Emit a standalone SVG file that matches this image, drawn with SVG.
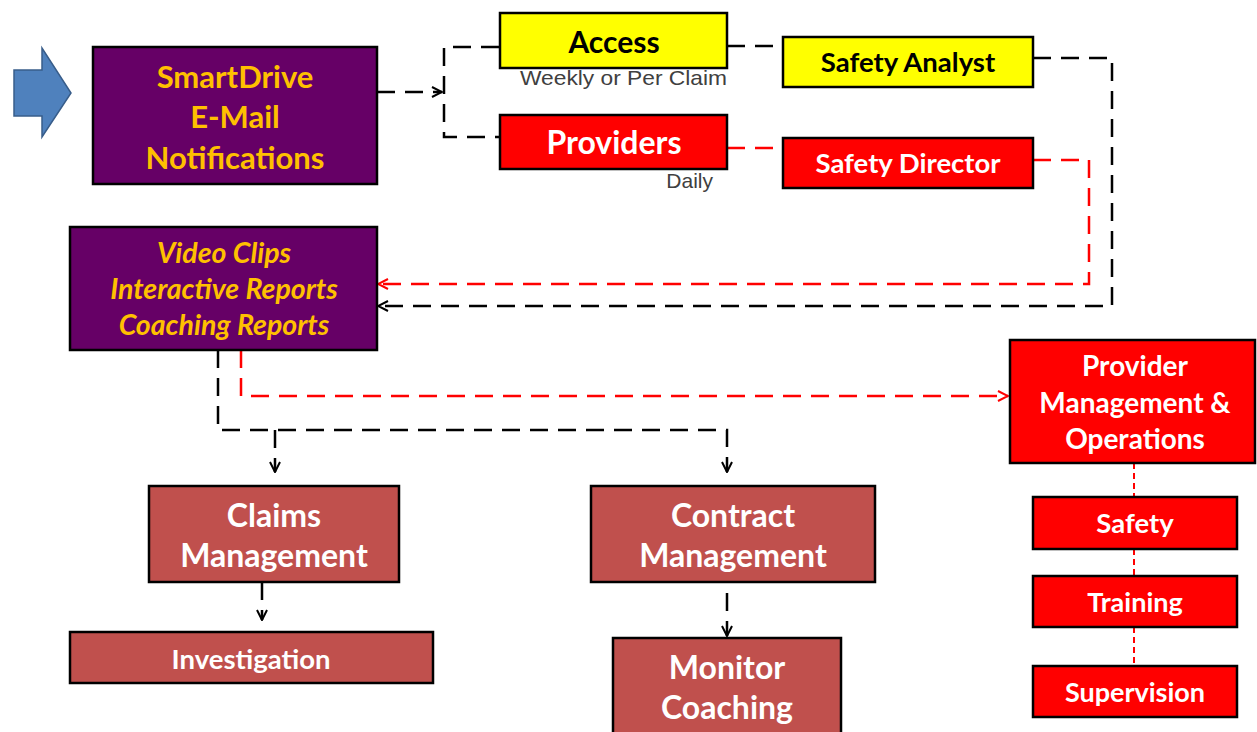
<svg xmlns="http://www.w3.org/2000/svg" width="1257" height="732" viewBox="0 0 1257 732">
<defs>
<style>
.box{stroke:#000;stroke-width:2.5}
.pur{fill:#660066}
.yel{fill:#ffff00}
.red{fill:#ff0000}
.brk{fill:#c0504d}
.t{font-family:Lato,"Open Sans","Noto Sans",sans-serif;font-weight:bold;text-anchor:middle}
.gold{fill:#ffc000}
.wh{fill:#fff}
.bk{fill:#000}
.note{font-family:"Liberation Sans",Arial,sans-serif;fill:#404040;font-size:21px}
.cb{fill:none;stroke:#000;stroke-width:2.5;stroke-dasharray:18 10}
.cr{fill:none;stroke:#ff0000;stroke-width:2.5;stroke-dasharray:18 10}
.cf{fill:none;stroke:#ff0000;stroke-width:2;stroke-dasharray:6 4}
</style>
<marker id="ab" viewBox="0 0 12 12" refX="11" refY="6" markerWidth="12" markerHeight="12" markerUnits="userSpaceOnUse" orient="auto">
<path d="M1,1 L11,6 L1,11" fill="none" stroke="#000" stroke-width="2"/>
</marker>
<marker id="ar" viewBox="0 0 12 12" refX="11" refY="6" markerWidth="12" markerHeight="12" markerUnits="userSpaceOnUse" orient="auto">
<path d="M1,1 L11,6 L1,11" fill="none" stroke="#ff0000" stroke-width="2"/>
</marker>
</defs>
<rect width="1257" height="732" fill="#fff"/>

<g id="connectors">
<path class="cb" d="M377,92 H442" marker-end="url(#ab)"/>
<path class="cb" d="M499,47 H444 V137 H499"/>
<path class="cb" d="M727,46 H783"/>
<path class="cr" d="M727,148 H783"/>
<path class="cb" d="M1033,58 H1112 V306 H378" marker-end="url(#ab)"/>
<path class="cr" d="M1033,160 H1089 V284 H378" marker-end="url(#ar)"/>
<path class="cb" d="M218,350 V430 H727 V472" marker-end="url(#ab)"/>
<path class="cb" d="M275,430 V472" marker-end="url(#ab)"/>
<path class="cr" d="M241,350 V396 H1008" marker-end="url(#ar)"/>
<path class="cb" d="M262,582 V620" marker-end="url(#ab)"/>
<path class="cb" d="M727,593 V636" marker-end="url(#ab)"/>
<path class="cf" d="M1134,463 V497 M1134,549 V576 M1134,627 V666"/>
</g>

<g id="arrow-start">
<polygon points="14,70 42,70 42,48 71,93 42,137 42,116 14,116" fill="#4f81bd" stroke="#385d8a" stroke-width="1.5"/>
</g>

<g id="smartdrive">
<rect class="box pur" x="93" y="47" width="284" height="137"/>
<text class="t gold" font-size="31" x="235" y="88">SmartDrive</text>
<text class="t gold" font-size="31" x="235" y="128">E-Mail</text>
<text class="t gold" font-size="31" x="235" y="169">Notifications</text>
</g>

<g id="access">
<rect class="box yel" x="500" y="13" width="227" height="55"/>
<text class="t bk" font-size="30" x="614" y="53">Access</text>
<text class="note" x="727" y="85" text-anchor="end" textLength="207" lengthAdjust="spacingAndGlyphs">Weekly or Per Claim</text>
</g>

<g id="providers">
<rect class="box red" x="500" y="115" width="227" height="54"/>
<text class="t wh" font-size="32" x="614" y="154">Providers</text>
<text class="note" x="713" y="188" text-anchor="end">Daily</text>
</g>

<g id="safety-analyst">
<rect class="box yel" x="783" y="37" width="250" height="50"/>
<text class="t bk" font-size="27.5" x="908" y="72">Safety Analyst</text>
</g>

<g id="safety-director">
<rect class="box red" x="783" y="138" width="250" height="50"/>
<text class="t wh" font-size="27.5" x="908" y="173">Safety Director</text>
</g>

<g id="reports">
<rect class="box pur" x="70" y="227" width="307" height="123"/>
<text class="t gold" font-size="28.5" font-style="italic" x="224" y="263">Video Clips</text>
<text class="t gold" font-size="28.5" font-style="italic" x="224" y="299">Interactive Reports</text>
<text class="t gold" font-size="28.5" font-style="italic" x="224" y="335">Coaching Reports</text>
</g>

<g id="claims">
<rect class="box brk" x="149" y="486" width="250" height="96"/>
<text class="t wh" font-size="32" x="274" y="527">Claims</text>
<text class="t wh" font-size="32" x="274" y="567">Management</text>
</g>

<g id="investigation">
<rect class="box brk" x="70" y="632" width="363" height="51"/>
<text class="t wh" font-size="27.5" x="251" y="669">Investigation</text>
</g>

<g id="contract">
<rect class="box brk" x="591" y="486" width="284" height="96"/>
<text class="t wh" font-size="32" x="733" y="527">Contract</text>
<text class="t wh" font-size="32" x="733" y="567">Management</text>
</g>

<g id="monitor">
<rect class="box brk" x="613" y="638" width="228" height="100"/>
<text class="t wh" font-size="32" x="727" y="679">Monitor</text>
<text class="t wh" font-size="32" x="727" y="719">Coaching</text>
</g>

<g id="provider-mgmt">
<rect class="box red" x="1010" y="340" width="245" height="123"/>
<text class="t wh" font-size="28" x="1135" y="376">Provider</text>
<text class="t wh" font-size="28" x="1135" y="413">Management &amp;</text>
<text class="t wh" font-size="28" x="1135" y="449">Operations</text>
</g>

<g id="safety">
<rect class="box red" x="1033" y="497" width="204" height="52"/>
<text class="t wh" font-size="27.5" x="1135" y="533">Safety</text>
</g>

<g id="training">
<rect class="box red" x="1033" y="576" width="204" height="51"/>
<text class="t wh" font-size="27" x="1135" y="612">Training</text>
</g>

<g id="supervision">
<rect class="box red" x="1033" y="666" width="204" height="51"/>
<text class="t wh" font-size="27" x="1135" y="702">Supervision</text>
</g>
</svg>
